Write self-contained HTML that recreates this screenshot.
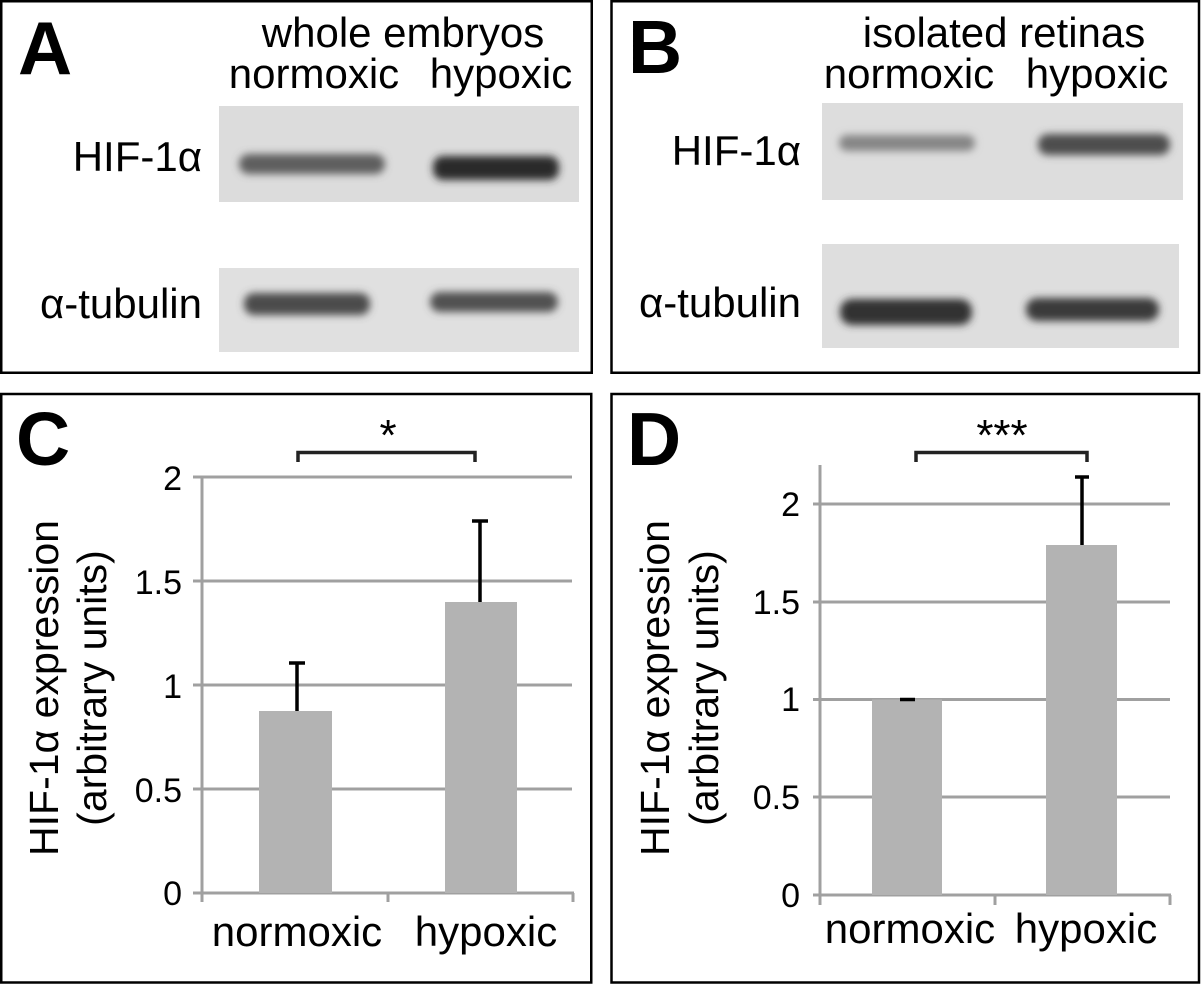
<!DOCTYPE html>
<html><head><meta charset="utf-8"><style>
html,body{margin:0;padding:0;background:#fff;}
svg{display:block;}
text{font-family:"Liberation Sans",Arial,sans-serif;fill:#000;}
</style></head><body>
<svg width="1201" height="985" viewBox="0 0 1201 985" xmlns="http://www.w3.org/2000/svg">
<defs>
<filter id="bl" x="-20%" y="-100%" width="140%" height="300%"><feGaussianBlur stdDeviation="4"/></filter>
</defs>
<!-- panel borders -->
<g fill="none" stroke="#000" stroke-width="2.5">
<rect x="1.25" y="1.25" width="590.5" height="371.5"/>
<rect x="611.5" y="1.25" width="587.5" height="371.5"/>
<rect x="1.25" y="394" width="590" height="588.5"/>
<rect x="611.5" y="394" width="587.5" height="588.5"/>
</g>

<!-- Panel letters -->
<g font-weight="bold" font-size="75">
<text x="18" y="74">A</text>
<text x="628" y="73">B</text>
<text x="16" y="465">C</text>
<text x="627" y="465">D</text>
</g>

<!-- Panel A -->
<g font-size="42" text-anchor="middle">
<text x="403" y="47">whole embryos</text>
<text x="314" y="88">normoxic</text>
<text x="501" y="88">hypoxic</text>
</g>
<g font-size="42" text-anchor="end">
<text x="202" y="171">HIF-1α</text>
<text x="202" y="318">α-tubulin</text>
</g>
<rect x="219" y="106" width="360" height="96" fill="#dcdcdc"/>
<rect x="219" y="268" width="360" height="84" fill="#e0e0e0"/>
<g filter="url(#bl)">
<rect x="239" y="154" width="146" height="20" rx="10" fill="#5e5e5e"/>
<rect x="433" y="156" width="126" height="24" rx="10" fill="#2c2c2c"/>
<rect x="244" y="293" width="126" height="22" rx="10" fill="#4c4c4c"/>
<rect x="430" y="292" width="128" height="20" rx="10" fill="#515151"/>
</g>

<!-- Panel B -->
<g font-size="42" text-anchor="middle">
<text x="1004" y="47">isolated retinas</text>
<text x="909" y="88">normoxic</text>
<text x="1097" y="88">hypoxic</text>
</g>
<g font-size="42" text-anchor="end">
<text x="801" y="165">HIF-1α</text>
<text x="801" y="317">α-tubulin</text>
</g>
<rect x="822" y="103" width="361" height="97" fill="#dddddd"/>
<rect x="822" y="244" width="357" height="104" fill="#dedede"/>
<g filter="url(#bl)">
<rect x="839" y="135" width="136" height="16" rx="8" fill="#858585"/>
<rect x="1038" y="134" width="132" height="21" rx="10" fill="#4e4e4e"/>
<rect x="840" y="299" width="132" height="26" rx="12" fill="#333"/>
<rect x="1026" y="298" width="133" height="23" rx="11" fill="#3b3b3b"/>
</g>

<!-- Panel C chart -->
<g stroke="#a0a0a0" stroke-width="3" fill="none">
<line x1="193" y1="477" x2="572" y2="477"/>
<line x1="193" y1="581" x2="572" y2="581"/>
<line x1="193" y1="685" x2="572" y2="685"/>
<line x1="193" y1="789" x2="572" y2="789"/>
<line x1="193" y1="893" x2="574" y2="893"/>
<line x1="202" y1="477" x2="202" y2="902"/>
<line x1="388" y1="893" x2="388" y2="902"/>
<line x1="573" y1="893" x2="573" y2="902"/>
</g>
<rect x="259" y="711" width="73" height="182" fill="#b3b3b3"/>
<rect x="445" y="602" width="72" height="291" fill="#b3b3b3"/>
<g stroke="#000" stroke-width="3.5" fill="none">
<line x1="297" y1="711" x2="297" y2="663"/>
<line x1="289" y1="663" x2="305" y2="663"/>
<line x1="480" y1="602" x2="480" y2="521"/>
<line x1="472" y1="521" x2="488" y2="521"/>
</g>
<path d="M298,462 V452.5 H475 V462" stroke="#222" stroke-width="3.5" fill="none"/>
<text x="388" y="450" font-size="44" text-anchor="middle">*</text>
<g font-size="34" text-anchor="end">
<text x="182" y="490">2</text>
<text x="182" y="594">1.5</text>
<text x="182" y="698">1</text>
<text x="182" y="802">0.5</text>
<text x="182" y="905">0</text>
</g>
<g font-size="42" text-anchor="middle">
<text x="297" y="946">normoxic</text>
<text x="486" y="946">hypoxic</text>
</g>
<g font-size="41" text-anchor="middle">
<text transform="translate(58,688) rotate(-90)">HIF-1α expression</text>
<text transform="translate(106,688) rotate(-90)">(arbitrary units)</text>
</g>

<!-- Panel D chart -->
<g stroke="#a0a0a0" stroke-width="3" fill="none">
<line x1="813" y1="504" x2="1170" y2="504"/>
<line x1="813" y1="602" x2="1170" y2="602"/>
<line x1="813" y1="699.5" x2="1170" y2="699.5"/>
<line x1="813" y1="797" x2="1170" y2="797"/>
<line x1="813" y1="895" x2="1171" y2="895"/>
<line x1="820" y1="465" x2="820" y2="905"/>
<line x1="995" y1="895" x2="995" y2="905"/>
<line x1="1170" y1="895" x2="1170" y2="905"/>
</g>
<rect x="872" y="699.5" width="70" height="195.5" fill="#b3b3b3"/>
<rect x="1046" y="545" width="71" height="350" fill="#b3b3b3"/>
<g stroke="#000" stroke-width="3.5" fill="none">
<line x1="900" y1="699.5" x2="915" y2="699.5"/>
<line x1="1082" y1="545" x2="1082" y2="477"/>
<line x1="1075" y1="477" x2="1089" y2="477"/>
</g>
<path d="M916,462 V452.5 H1087 V462" stroke="#222" stroke-width="3.5" fill="none"/>
<text x="1002" y="450" font-size="44" text-anchor="middle">***</text>
<g font-size="34" text-anchor="end">
<text x="800" y="516">2</text>
<text x="800" y="614">1.5</text>
<text x="800" y="711">1</text>
<text x="800" y="809">0.5</text>
<text x="800" y="907">0</text>
</g>
<g font-size="42" text-anchor="middle">
<text x="910" y="943">normoxic</text>
<text x="1086" y="943">hypoxic</text>
</g>
<g font-size="41" text-anchor="middle">
<text transform="translate(669,688) rotate(-90)">HIF-1α expression</text>
<text transform="translate(718,688) rotate(-90)">(arbitrary units)</text>
</g>
</svg>
</body></html>
